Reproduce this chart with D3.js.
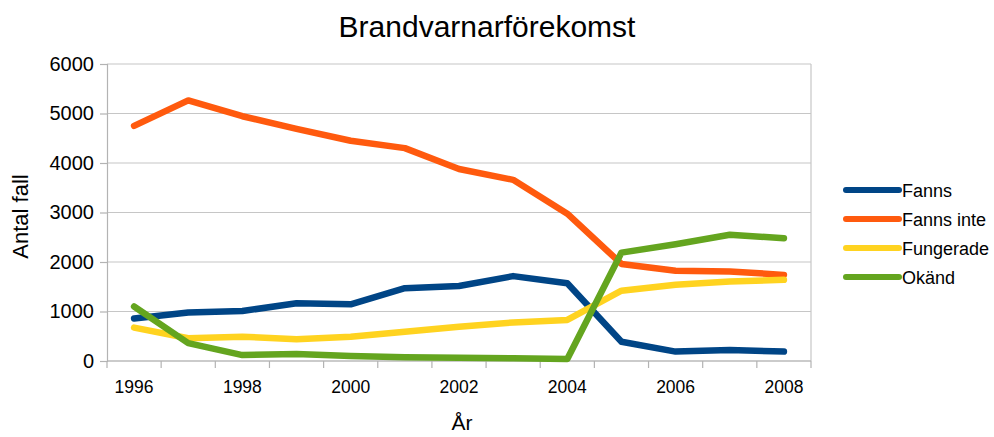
<!DOCTYPE html>
<html>
<head>
<meta charset="utf-8">
<script src="https://cdn.jsdelivr.net/npm/d3@7"></script>
<style>
  body { margin: 0; background: #fff; }
  svg { font-family: "Liberation Sans", Arial, sans-serif; }
</style>
</head>
<body>
<div id="chart"></div>
<script>
'use strict'
let years = ['1996','1997','1998','1999','2000','2001','2002','2003','2004','2005','2006','2007','2008'];
let yTicks = [0, 1000, 2000, 3000, 4000, 5000, 6000];
let seriesNames = ['Fanns', 'Fanns inte', 'Fungerade', 'Okänd'];
let seriesColors = ['#004586', '#ff5a0e', '#ffd320', '#64a51f'];
let fanns = [860, 980, 1010, 1165, 1145, 1470, 1515, 1715, 1570, 390, 190, 220, 190];
let fannsInte = [4750, 5265, 4945, 4690, 4450, 4300, 3880, 3660, 2975, 1960, 1825, 1810, 1740];
let fungerade = [675, 460, 490, 440, 490, 590, 690, 780, 830, 1420, 1540, 1605, 1640];
let okand = [1100, 360, 120, 140, 100, 75, 65, 55, 40, 2190, 2360, 2550, 2480];
let allSeries = [fanns, fannsInte, fungerade, okand];

let W = 994, H = 437;
let margin = {top: 64, right: 183, bottom: 76, left: 107};
let width = W - margin.left - margin.right;
let height = H - margin.top - margin.bottom;

let svg = d3.select('#chart').append('svg')
  .attr('width', W).attr('height', H);

let x = d3.scaleBand().domain(years).range([0, width]);
let y = d3.scaleLinear().domain([0, 6000]).range([height, 0]);

let g = svg.append('g')
  .attr('transform', 'translate(' + margin.left + ',' + margin.top + ')');

// gridlines
g.selectAll('.grid')
  .data(yTicks)
  .enter().append('line')
  .attr('class', 'grid')
  .attr('x1', 0).attr('x2', width)
  .attr('y1', function(d) { return y(d); })
  .attr('y2', function(d) { return y(d); })
  .attr('stroke', '#c6c6c6')
  .attr('stroke-width', 1.2);

// right border of plot area
g.append('line')
  .attr('x1', width).attr('x2', width)
  .attr('y1', 0).attr('y2', height)
  .attr('stroke', '#c6c6c6')
  .attr('stroke-width', 1.2);

// y axis
let yAxis = d3.axisLeft(y).tickValues(yTicks).tickFormat(d3.format('d')).tickSize(7).tickPadding(6);
let yG = g.append('g').call(yAxis);
yG.select('.domain').attr('stroke', '#b3b3b3').attr('stroke-width', 1.2);
yG.selectAll('.tick line').attr('stroke', '#b3b3b3').attr('stroke-width', 1.2);
yG.selectAll('.tick text').attr('font-size', '20px').attr('fill', '#000')
  .attr('font-family', '"Liberation Sans", Arial, sans-serif');

// x axis: ticks at band boundaries, labels every other year
let xG = g.append('g').attr('transform', 'translate(0,' + height + ')');
xG.append('line')
  .attr('x1', 0).attr('x2', width)
  .attr('stroke', '#b3b3b3').attr('stroke-width', 1.2);
let bounds = years.map(function(d) { return x(d); }).concat([width]);
xG.selectAll('.xtick')
  .data(bounds)
  .enter().append('line')
  .attr('class', 'xtick')
  .attr('x1', function(d) { return d; })
  .attr('x2', function(d) { return d; })
  .attr('y1', 0).attr('y2', 7)
  .attr('stroke', '#b3b3b3').attr('stroke-width', 1.2);
xG.selectAll('.xlabel')
  .data(years.filter(function(d, i) { return i % 2 === 0; }))
  .enter().append('text')
  .attr('class', 'xlabel')
  .attr('x', function(d) { return x(d) + x.bandwidth() / 2; })
  .attr('y', 32)
  .attr('text-anchor', 'middle')
  .attr('font-size', '17.5px')
  .attr('fill', '#000')
  .text(function(d) { return d; });

// lines
let line = d3.line()
  .x(function(d, i) { return x(years[i]) + x.bandwidth() / 2; })
  .y(function(d) { return y(d); });

g.selectAll('.series')
  .data(allSeries)
  .enter().append('path')
  .attr('class', 'series')
  .attr('d', function(d) { return line(d); })
  .attr('fill', 'none')
  .attr('stroke', function(d, i) { return seriesColors[i]; })
  .attr('stroke-width', 6.5)
  .attr('stroke-linejoin', 'round')
  .attr('stroke-linecap', 'round');

// title
svg.append('text')
  .attr('x', 487).attr('y', 37)
  .attr('text-anchor', 'middle')
  .attr('font-size', '30px')
  .attr('fill', '#000')
  .text('Brandvarnarförekomst');

// axis titles
svg.append('text')
  .attr('transform', 'translate(28,' + (margin.top + height / 2 + 4) + ') rotate(-90)')
  .attr('text-anchor', 'middle')
  .attr('font-size', '22px')
  .attr('fill', '#000')
  .text('Antal fall');
svg.append('text')
  .attr('x', margin.left + width / 2 + 3).attr('y', 430)
  .attr('text-anchor', 'middle')
  .attr('font-size', '21px')
  .attr('fill', '#000')
  .text('År');

// legend
let legend = svg.append('g').attr('transform', 'translate(846,190)');
let item = legend.selectAll('.item')
  .data(seriesNames)
  .enter().append('g')
  .attr('class', 'item')
  .attr('transform', function(d, i) { return 'translate(0,' + (i * 29) + ')'; });
item.append('line')
  .attr('x1', 0).attr('x2', 53)
  .attr('stroke', function(d, i) { return seriesColors[i]; })
  .attr('stroke-width', 6)
  .attr('stroke-linecap', 'round');
item.append('text')
  .attr('x', 56).attr('y', 7)
  .attr('font-size', '18px')
  .attr('fill', '#000')
  .text(function(d) { return d; });
</script>
</body>
</html>
